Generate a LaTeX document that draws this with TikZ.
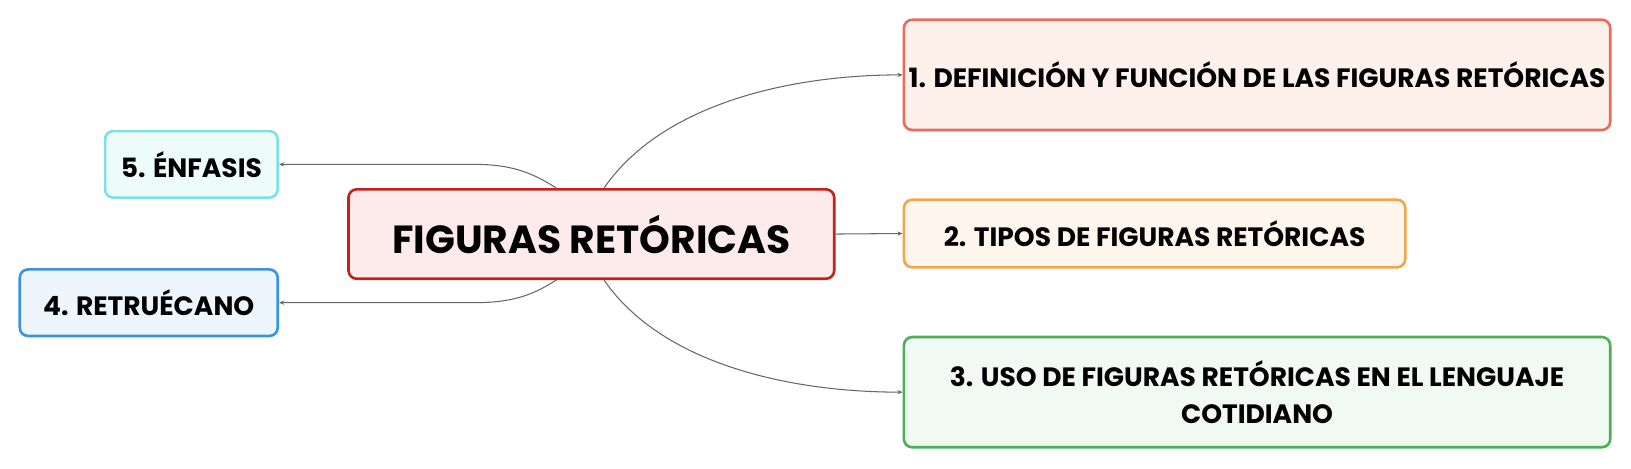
\documentclass[tikz,border=0pt]{standalone}
\usepackage{fontspec}
\setmainfont{Poppins}
\usetikzlibrary{arrows.meta,calc}
\definecolor{rootB}{HTML}{C3221B}\definecolor{rootF}{HTML}{FDEBEB}
\definecolor{oneB}{HTML}{EA6B5A}\definecolor{oneF}{HTML}{FEF1EC}
\definecolor{twoB}{HTML}{F2A54A}\definecolor{twoF}{HTML}{FEF5EC}
\definecolor{thrB}{HTML}{4CAF5A}\definecolor{thrF}{HTML}{F1F9F3}
\definecolor{fivB}{HTML}{7FE0E3}\definecolor{fivF}{HTML}{EEFBFB}
\definecolor{fouB}{HTML}{3A92E0}\definecolor{fouF}{HTML}{EEF6FD}
\definecolor{conn}{HTML}{666666}
\tikzset{
  box/.style={rectangle, rounded corners=8pt, line width=2.5pt, inner sep=0pt, align=center, font=\bfseries\fontsize{25.5}{36}\selectfont},
  link/.style={draw=conn, line width=1pt, -{Stealth[length=5pt,width=4pt]}},
}
\begin{document}
\begin{tikzpicture}[x=1pt,y=-1pt]
\useasboundingbox[fill=white] (0,0) rectangle (1568,450);
\node[box, draw=rootB, fill=rootF, minimum width=467pt, minimum height=86pt, font=\bfseries\fontsize{37.7}{40}\selectfont] (root) at (568.5,225) {FIGURAS RETÓRICAS};
\node[box, draw=oneB, fill=oneF, minimum width=679pt, minimum height=106pt] (n1) at (1208.5,72) {1. DEFINICIÓN Y FUNCIÓN DE LAS FIGURAS RETÓRICAS};
\node[box, draw=twoB, fill=twoF, minimum width=482pt, minimum height=65pt] (n2) at (1110,224.5) {2. TIPOS DE FIGURAS RETÓRICAS};
\node[box, draw=thrB, fill=thrF, minimum width=679pt, minimum height=106pt] (n3) at (1208.5,377) {3. USO DE FIGURAS RETÓRICAS EN EL LENGUAJE\\COTIDIANO};
\node[box, draw=fivB, fill=fivF, minimum width=166pt, minimum height=64pt] (n5) at (184,158) {5. ÉNFASIS};
\node[box, draw=fouB, fill=fouF, minimum width=248pt, minimum height=64pt] (n4) at (143,291) {4. RETRUÉCANO};
\draw[link] ([xshift=247pt]root.north west) .. controls +(55,-80) and +(-110,0) .. (n1.west);
\draw[link] (root.east) -- (n2.west);
\draw[link] ([xshift=247pt]root.south west) .. controls +(55,80) and +(-110,0) .. (n3.west);
\coordinate (k5) at (455,158);
\coordinate (k4) at (455,291);
\draw[link] ([xshift=201pt]root.north west) .. controls +(-25,-16) and +(35,0) .. (k5) -- (n5.east);
\draw[link] ([xshift=201pt]root.south west) .. controls +(-25,16) and +(35,0) .. (k4) -- (n4.east);
\end{tikzpicture}
\end{document}
